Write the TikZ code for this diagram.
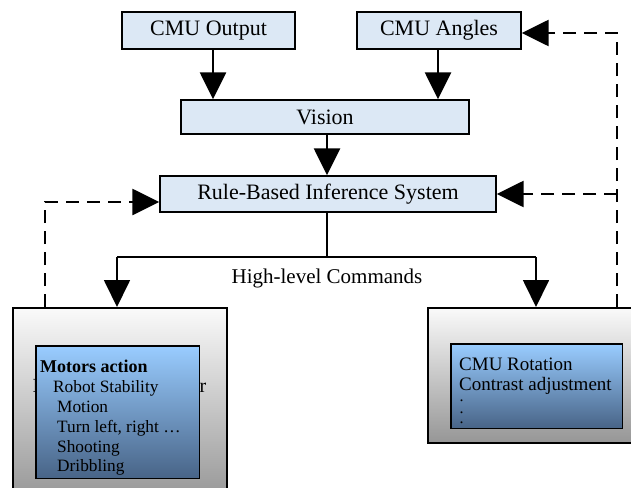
\documentclass[tikz,border=0pt]{standalone}
\usepackage{fontspec}
\setmainfont{Liberation Serif}
\usetikzlibrary{arrows.meta}
\definecolor{boxblue}{RGB}{220,232,245}
\definecolor{innertop}{RGB}{153,204,255}
\definecolor{innerbot}{RGB}{72,100,135}
\definecolor{outertop}{RGB}{250,250,250}
\definecolor{outerbot}{RGB}{150,150,150}
\begin{document}
\begin{tikzpicture}[x=1pt,y=-1pt,
  box/.style={draw=black, line width=1.4pt, fill=boxblue, inner sep=0pt, font=\fontsize{22}{26}\selectfont},
  tip/.style={-{Triangle[length=27pt,width=26pt]}},
  arr/.style={line width=2.6pt, tip},
  thinarr/.style={line width=1.8pt, tip},
  thinline/.style={line width=1.8pt},
  dsh/.style={line width=2.6pt, dash pattern=on 13pt off 8pt},
  outerbox/.style={draw=black, line width=1.6pt, top color=outertop, bottom color=outerbot, inner sep=0pt},
  innerbox/.style={top color=innertop, bottom color=innerbot, inner sep=0pt},
  frame/.style={draw=black, line width=1.6pt},
  lt/.style={anchor=base west, inner sep=0pt, font=\fontsize{17.3}{20}\selectfont},
  rt/.style={anchor=base west, inner sep=0pt, font=\fontsize{19}{22}\selectfont},
  dotline/.style={anchor=base west, inner sep=0pt, font=\fontsize{16}{16}\selectfont},
]
\clip (0,0) rectangle (631,487);

% top boxes
\node[box, minimum width=173pt, minimum height=37pt] (cmuout) at (208.5,30.5) {CMU Output};
\node[box, minimum width=164pt, minimum height=37pt] (cmuang) at (439,30.5) {CMU Angles};
\node[box, minimum width=288pt, minimum height=34pt] (vision) at (325,117) {Vision};
\node[box, minimum width=336pt, minimum height=36pt] (rule) at (328,194) {Rule-Based Inference System};

% outer boxes
\node[outerbox, minimum width=214pt, minimum height=193pt, anchor=north west] (lout) at (12,307) {};
\node[outerbox, minimum width=213pt, minimum height=135pt, anchor=north west] (rout) at (427,307) {};

% partly hidden text in left outer box
\node[anchor=base west, inner sep=0pt, font=\fontsize{20}{24}\selectfont] (fragI) at (32.5,392) {I};
\node[anchor=base west, inner sep=0pt, font=\fontsize{20}{24}\selectfont] (fragr) at (199.5,392) {r};

% inner boxes
\node[innerbox, minimum width=163pt, minimum height=132pt, anchor=north west] (lin) at (36,346) {};
\node[innerbox, minimum width=171pt, minimum height=84pt, anchor=north west] (rin) at (451,344) {};

\begin{scope}
\clip (lin.south west) rectangle (lin.north east);
\node[lt, font=\bfseries\fontsize{18}{20}\selectfont] (t1) at (40,372) {Motors action};
\node[lt] (t2) at (53,392) {Robot Stability};
\node[lt] (t3) at (57,412) {Motion};
\node[lt] (t4) at (57,432) {Turn left, right …};
\node[lt] (t5) at (57,452) {Shooting};
\node[lt] (t6) at (57,471.5) {Dribbling};
\end{scope}
\draw[frame] (lin.south west) rectangle (lin.north east);

\node[rt] (r1) at (459,370) {CMU Rotation};
\node[rt] (r2) at (459,390) {Contrast adjustment};
\node[dotline] (r3) at (459.5,401) {.};
\node[dotline] (r4) at (459.5,413) {.};
\node[dotline] (r5) at (459.5,423) {.};
\draw[frame] (rin.south west) rectangle (rin.north east);

% solid connectors
\draw[arr] ([xshift=4.5pt]cmuout.south) -- ([xshift=4.5pt]cmuout.south |- vision.north);
\draw[arr] ([xshift=-1pt]cmuang.south) -- ([xshift=-1pt]cmuang.south |- vision.north);
\draw[arr] ([xshift=-1pt]rule.north |- vision.south) -- ([xshift=-1pt]rule.north);

\coordinate (bj) at (327,257);
\coordinate (bl) at (117,257);
\coordinate (br) at (536,257);
\draw[thinline] ([xshift=-1pt]rule.south) -- (bj);
\draw[thinline] (bl) -- (br);
\draw[thinarr] (bl) -- (bl |- lout.north);
\draw[thinarr] (br) -- (br |- rout.north);
\node[anchor=base, inner sep=0pt, font=\fontsize{21}{24}\selectfont] (hlc) at (327,283) {High-level Commands};

% dashed feedback
\coordinate (lc) at (45,307);
\coordinate (ltop) at (45,202);
\draw[dsh, tip] (lc) -- (ltop) -- (ltop -| rule.west);
\coordinate (rc) at (617,307);
\coordinate (rtop) at (617,33);
\draw[dsh, tip] (rc) -- (rtop) -- (rtop -| cmuang.east);
\draw[dsh, tip] (rc |- rule.east) -- (rule.east);
\end{tikzpicture}
\end{document}
